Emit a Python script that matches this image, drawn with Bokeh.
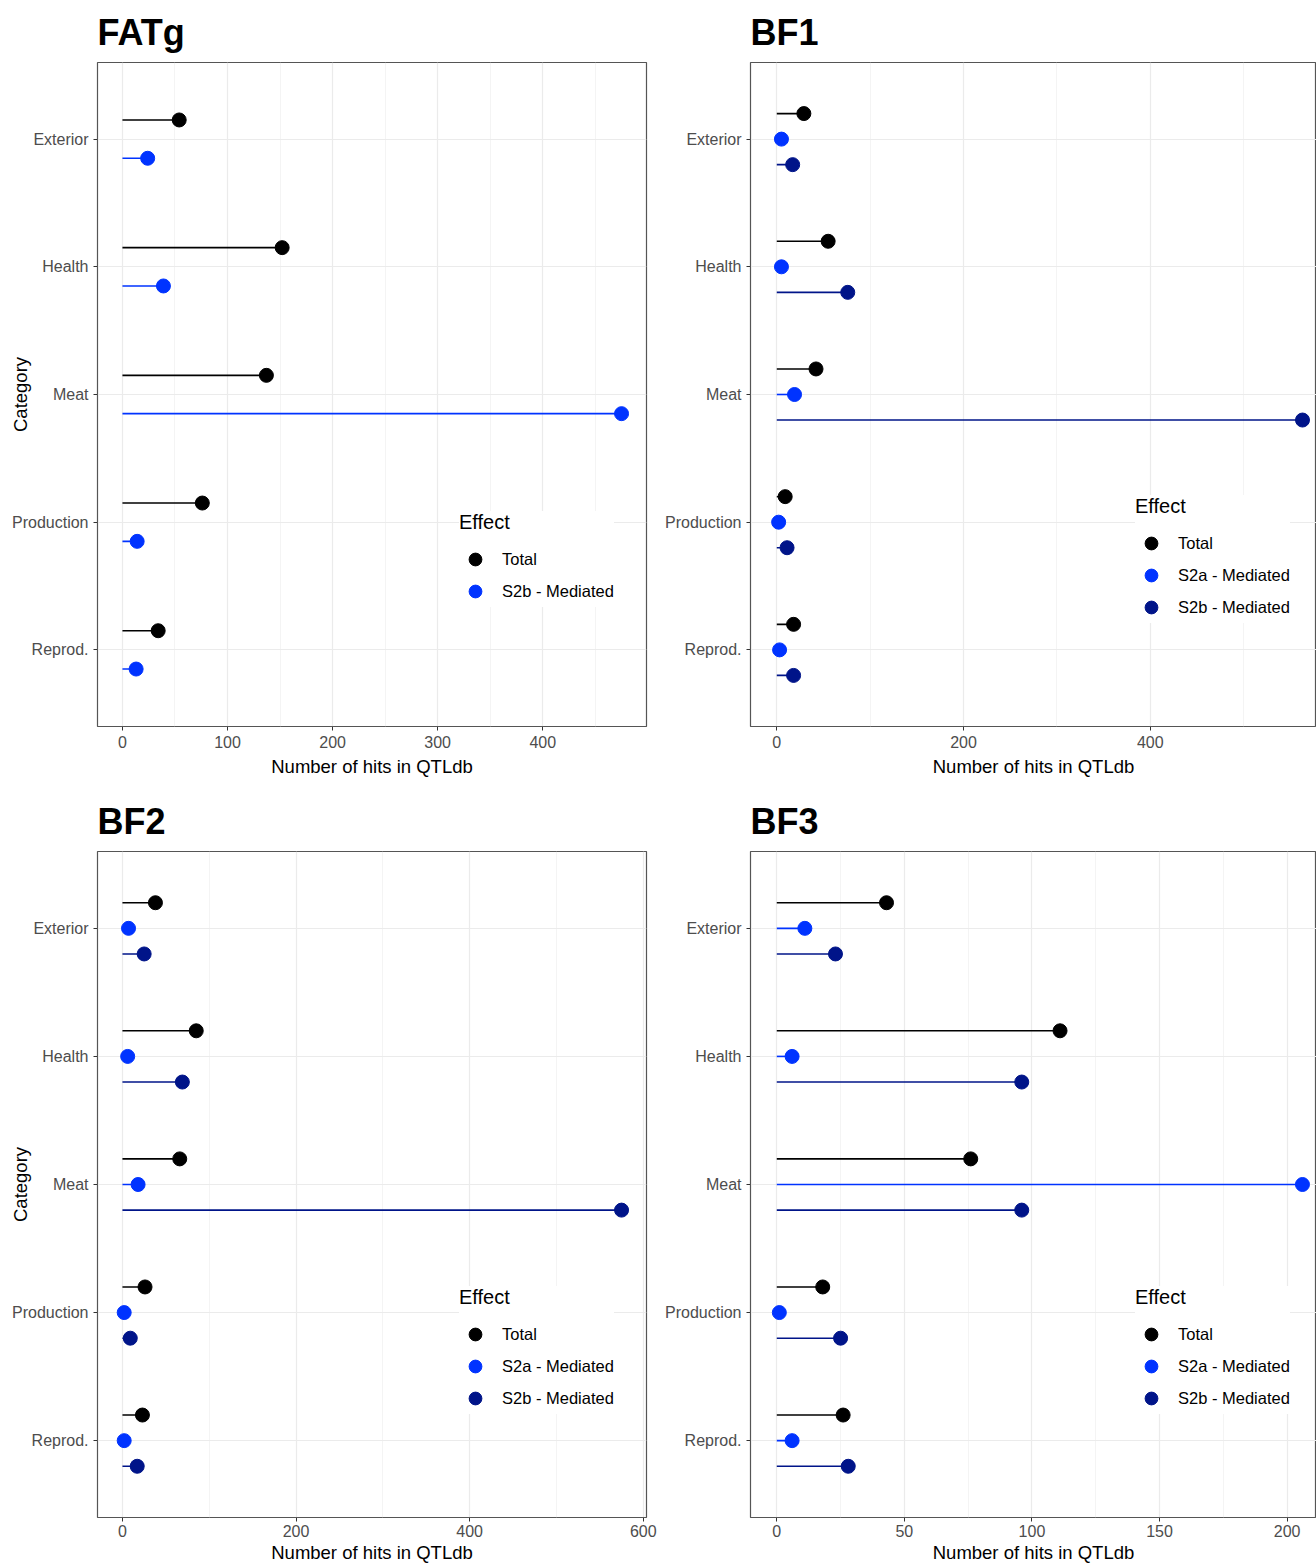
import numpy as np
from bokeh.plotting import figure
from bokeh.models import ColumnDataSource, Range1d, FixedTicker, Legend, LegendItem
from bokeh.layouts import row, column
from bokeh.embed import file_html
from bokeh.resources import INLINE

# ---------------- data ----------------
categories = ["Exterior", "Health", "Meat", "Production", "Reprod."]

fatg_total = [54, 152, 137, 76, 34]
fatg_s2b = [24, 39, 475, 14, 13]

bf1_total = [29, 55, 42, 9, 18]
bf1_s2a = [5, 5, 19, 2, 3]
bf1_s2b = [17, 76, 563, 11, 18]

bf2_total = [38, 85, 66, 26, 23]
bf2_s2a = [7, 6, 18, 2, 2]
bf2_s2b = [25, 69, 575, 9, 17]

bf3_total = [43, 111, 76, 18, 26]
bf3_s2a = [11, 6, 206, 1, 6]
bf3_s2b = [23, 96, 96, 25, 28]

fatg_ticks = [0, 100, 200, 300, 400]
bf1_ticks = [0, 200, 400]
bf2_ticks = [0, 200, 400, 600]
bf3_ticks = [0, 50, 100, 150, 200]

# ---------------- styles ----------------
FONT = "Liberation Sans"
C_TOTAL = "#000000"
C_BRIGHT = "#0033FF"
C_DARK = "#001489"


def make_panel(title, series, xr, ticks, minor, with_ylabel, width, height,
               b_left, b_right, b_top, b_bottom, legend_loc, lab_so=5, ax_so=5):
    p = figure(width=width, height=height,
               x_range=Range1d(*xr), y_range=Range1d(0.4, 5.6),
               output_backend="svg", toolbar_location=None,
               min_border_left=b_left, min_border_right=b_right,
               min_border_top=b_top, min_border_bottom=b_bottom,
               background_fill_color="white", border_fill_color="white")
    p.outline_line_color = "#555555"
    p.outline_line_width = 1.2

    p.title.text = title
    p.title.text_font = FONT
    p.title.text_font_size = "36px"
    p.title.text_font_style = "bold"
    p.title.text_color = "black"
    p.title.align = "left"
    p.title.vertical_align = "top"
    p.title.standoff = 16
    p.title.offset = 0

    n = len(series)
    offsets = [0.15, -0.15] if n == 2 else [0.2, 0.0, -0.2]
    base = np.arange(len(categories), 0, -1).astype(float)

    items = []
    for (name, vals, color), off in zip(series, offsets):
        src = ColumnDataSource(dict(cat=categories, val=vals,
                                    zero=[0] * len(vals), y=base + off))
        p.segment(x0="zero", y0="y", x1="val", y1="y", source=src,
                  line_color=color, line_width=1.6)
        r = p.scatter(x="val", y="y", source=src, size=14, marker="circle",
                      fill_color=color, line_color=color)
        items.append(LegendItem(label=name, renderers=[r]))

    xt = FixedTicker(ticks=ticks, minor_ticks=minor)
    p.xaxis.ticker = xt
    p.xgrid.ticker = xt
    yt = FixedTicker(ticks=[1, 2, 3, 4, 5])
    p.yaxis.ticker = yt
    p.ygrid.ticker = yt
    p.yaxis.major_label_overrides = {int(b): c for b, c in zip(base, categories)}

    for ax in (p.xaxis[0], p.yaxis[0]):
        ax.axis_line_color = None
        ax.major_tick_line_color = "#333333"
        ax.major_tick_out = 4
        ax.major_tick_in = 0
        ax.minor_tick_line_color = None
        ax.major_label_text_font = FONT
        ax.major_label_text_font_size = "16px"
        ax.major_label_text_color = "#4D4D4D"
        ax.axis_label_text_font = FONT
        ax.axis_label_text_font_size = "18.5px"
        ax.axis_label_text_font_style = "normal"
        ax.axis_label_text_color = "black"
    p.xaxis.major_label_standoff = lab_so
    p.xaxis.axis_label = "Number of hits in QTLdb"
    p.xaxis.axis_label_standoff = ax_so
    p.yaxis.major_label_standoff = 5
    if with_ylabel:
        p.yaxis.axis_label = "Category"
        p.yaxis.axis_label_standoff = -22

    p.xgrid.grid_line_color = "#EBEBEB"
    p.xgrid.grid_line_width = 1.2
    p.xgrid.minor_grid_line_color = "#EFEFEF"
    p.xgrid.minor_grid_line_width = 0.7
    p.ygrid.grid_line_color = "#EBEBEB"
    p.ygrid.grid_line_width = 1.2

    leg = Legend(items=items, location=legend_loc)
    leg.title = "Effect"
    leg.title_text_font = FONT
    leg.title_text_font_size = "20px"
    leg.title_text_font_style = "normal"
    leg.title_text_color = "black"
    leg.title_standoff = 9
    leg.label_text_font = FONT
    leg.label_text_font_size = "16.5px"
    leg.label_text_color = "black"
    leg.glyph_width = 32
    leg.glyph_height = 32
    leg.label_height = 32
    leg.label_standoff = 11
    leg.spacing = 0
    leg.padding = 10
    leg.margin = 0
    leg.border_line_color = None
    leg.background_fill_color = "white"
    leg.background_fill_alpha = 1.0
    p.add_layout(leg)
    return p


p1 = make_panel("FATg",
                [("Total", fatg_total, C_TOTAL), ("S2b - Mediated", fatg_s2b, C_BRIGHT)],
                (-23.75, 498.75), fatg_ticks, [50, 150, 250, 350, 450],
                True, 658, 790, 97, 12, 62, 64, (362, 119))
p2 = make_panel("BF1",
                [("Total", bf1_total, C_TOTAL), ("S2a - Mediated", bf1_s2a, C_BRIGHT),
                 ("S2b - Mediated", bf1_s2b, C_DARK)],
                (-28.15, 578), bf1_ticks, [100, 300, 500],
                False, 658, 790, 92, 0, 62, 64, (385, 103))
p3 = make_panel("BF2",
                [("Total", bf2_total, C_TOTAL), ("S2a - Mediated", bf2_s2a, C_BRIGHT),
                 ("S2b - Mediated", bf2_s2b, C_DARK)],
                (-28.75, 603.75), bf2_ticks, [100, 300, 500],
                True, 658, 775, 97, 12, 61, 48, (362, 103), 3, 2)
p4 = make_panel("BF3",
                [("Total", bf3_total, C_TOTAL), ("S2a - Mediated", bf3_s2a, C_BRIGHT),
                 ("S2b - Mediated", bf3_s2b, C_DARK)],
                (-10.3, 211.5), bf3_ticks, [25, 75, 125, 175],
                False, 658, 775, 92, 0, 61, 48, (385, 103), 3, 2)

layout = column(row(p1, p2), row(p3, p4))
open("out.html", "w").write(file_html(layout, INLINE))
